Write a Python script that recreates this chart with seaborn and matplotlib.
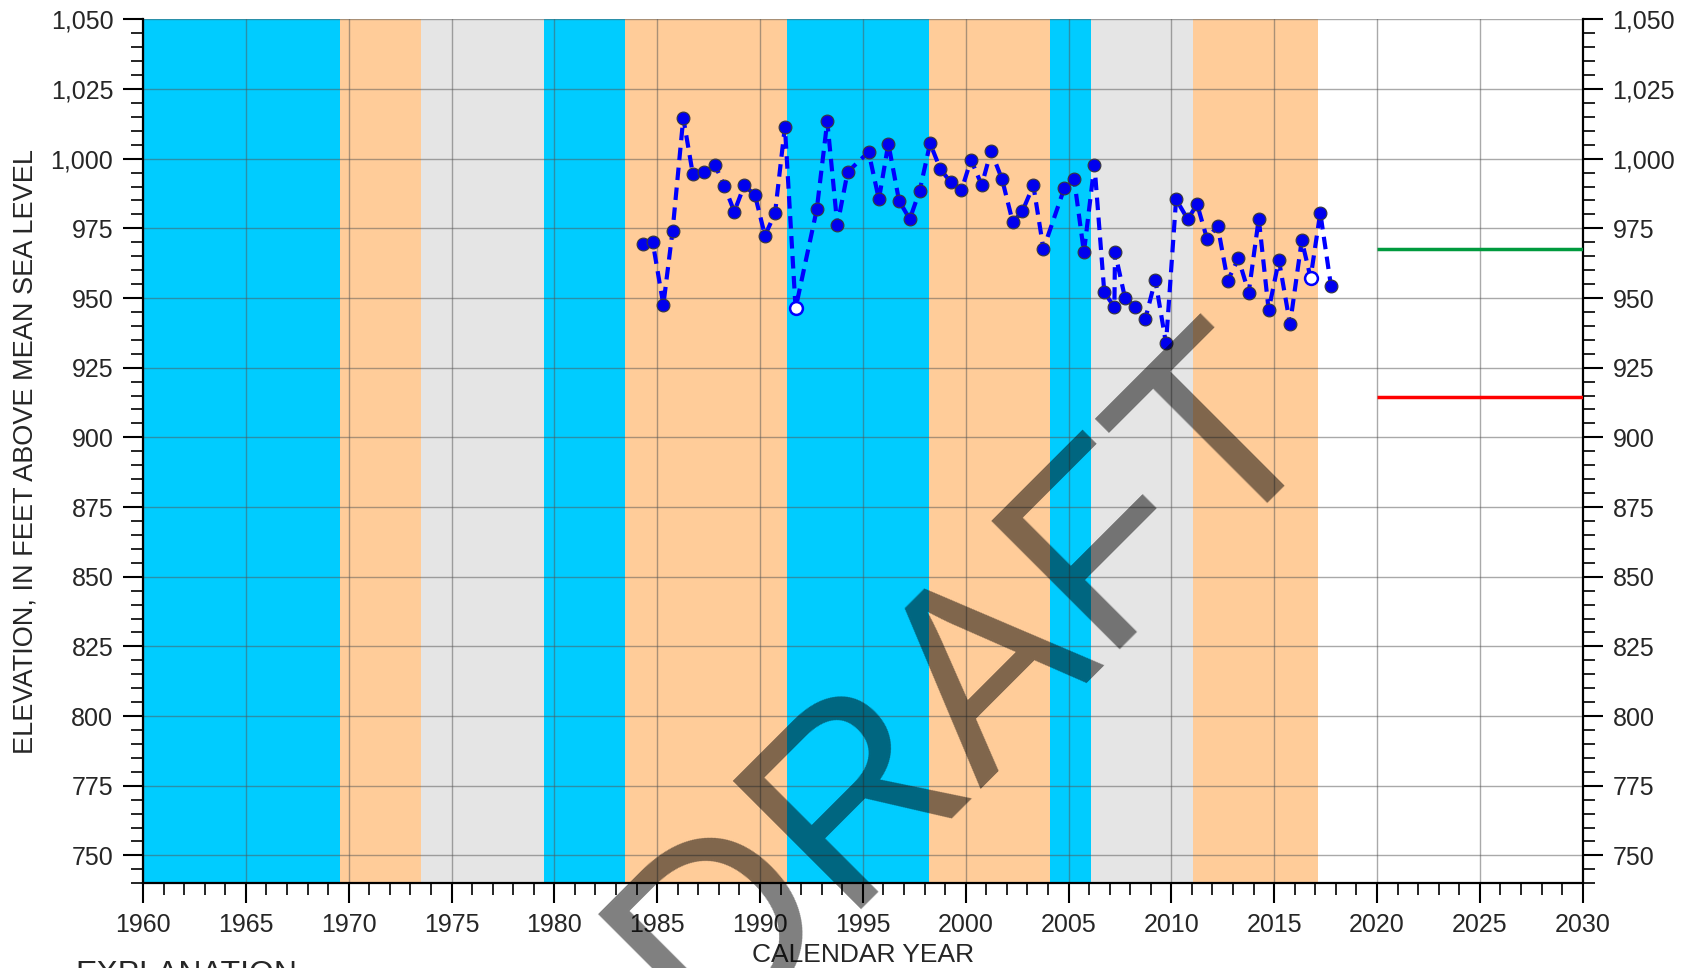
import pandas as pd
import matplotlib.pyplot as plt
import matplotlib.ticker as mticker
import seaborn as sns

# water-level measurements (decimal year, ft above MSL)
years = [1984.30, 1984.78, 1985.30, 1985.75, 1986.27, 1986.73, 1987.28, 1987.81, 1988.27, 1988.75,
         1989.24, 1989.76, 1990.24, 1990.73, 1991.21, 1991.73, 1992.76, 1993.27, 1993.76, 1994.26,
         1995.28, 1995.78, 1996.24, 1996.76, 1997.28, 1997.76, 1998.27, 1998.77, 1999.27, 1999.79,
         2000.26, 2000.78, 2001.23, 2001.77, 2002.29, 2002.76, 2003.29, 2003.78, 2004.80, 2005.27,
         2005.75, 2006.26, 2006.74, 2007.23, 2007.26, 2007.75, 2008.25, 2008.73, 2009.22, 2009.74,
         2010.23, 2010.80, 2011.25, 2011.74, 2012.25, 2012.74, 2013.26, 2013.76, 2014.25, 2014.73,
         2015.23, 2015.77, 2016.34, 2016.77, 2017.24, 2017.76]
elevation = [969.4, 970.2, 947.5, 974.2, 1014.6, 994.6, 995.2, 997.8, 990.1, 981.0,
             990.5, 986.8, 972.4, 980.4, 1011.5, 946.3, 981.8, 1013.4, 976.1, 995.2,
             1002.4, 985.4, 1005.4, 984.9, 978.3, 988.4, 1005.5, 996.2, 991.6, 988.6,
             999.6, 990.5, 1002.7, 992.6, 977.2, 981.2, 990.4, 967.6, 989.5, 992.7,
             966.4, 997.8, 952.0, 946.8, 966.4, 949.9, 946.9, 942.4, 956.5, 933.7,
             985.4, 978.2, 983.7, 971.1, 975.9, 956.2, 964.2, 951.9, 978.5, 945.7,
             963.6, 940.6, 970.7, 957.3, 980.6, 954.4]
# measurements shown with open symbols
open_years = [1991.73, 2016.77]

# climate periods shaded behind the data
period_start = [1960.0, 1969.6, 1973.5, 1979.5, 1983.45, 1991.3, 1998.2, 2004.1, 2006.1, 2011.05]
period_end = [1969.6, 1973.5, 1979.5, 1983.45, 1991.3, 1998.2, 2004.1, 2006.1, 2011.05, 2017.15]
period_type = ['wet', 'dry', 'normal', 'wet', 'dry', 'wet', 'dry', 'wet', 'normal', 'dry']
period_colors = {'wet': '#00ccff', 'dry': '#ffcc99', 'normal': '#e5e5e5'}

# reference levels drawn 2020-2030
ref_levels = [967.5, 914.6]
ref_colors = ['#009a3e', '#ff0000']

sns.set_theme(style='white')
plt.rcParams['font.family'] = ['Liberation Sans', 'DejaVu Sans']

df = pd.DataFrame({'year': years, 'elevation': elevation})
df['open'] = df['year'].isin(open_years)

fig, ax = plt.subplots(figsize=(16.87, 9.68), dpi=100)
fig.subplots_adjust(left=143 / 1687, right=1582.7 / 1687, top=1 - 19.3 / 968, bottom=1 - 883.3 / 968)

for s, e, t in zip(period_start, period_end, period_type):
    ax.axvspan(s, e, color=period_colors[t], lw=0, zorder=0)

sns.lineplot(data=df, x='year', y='elevation', ax=ax, color='#0000ff', lw=3.0,
             linestyle=(0, (3, 1.8)), estimator=None, sort=False, zorder=3)
sns.scatterplot(data=df[~df['open']], x='year', y='elevation', ax=ax, color='#0000ee',
                s=85, edgecolor='#3a3a3a', linewidth=0.8, zorder=4)
sns.scatterplot(data=df[df['open']], x='year', y='elevation', ax=ax, color='white',
                s=85, edgecolor='#0000ff', linewidth=1.8, zorder=4)

for lvl, c in zip(ref_levels, ref_colors):
    ax.hlines(lvl, 2020, 2030, color=c, lw=2.5, zorder=3)

ax.set_xlim(1960, 2030)
ax.set_ylim(740, 1050)
ax.xaxis.set_major_locator(mticker.MultipleLocator(5))
ax.xaxis.set_minor_locator(mticker.MultipleLocator(1))
ax.yaxis.set_major_locator(mticker.MultipleLocator(25))
ax.yaxis.set_minor_locator(mticker.MultipleLocator(5))
ax.yaxis.set_major_formatter(mticker.FuncFormatter(lambda v, p: f'{v:,.0f}'))

ax.set_axisbelow('line')
ax.grid(True, which='major', color='#555555', alpha=0.5, lw=1.0)

ax.tick_params(which='major', direction='out', length=14.4, width=1.5, labelsize=18,
               left=True, right=True, bottom=True, labelright=True, color='black', pad=7)
ax.tick_params(which='minor', direction='out', length=8.6, width=1.2,
               left=True, right=True, bottom=True, color='black')
for side in ['left', 'right', 'bottom']:
    ax.spines[side].set_color('black')
    ax.spines[side].set_linewidth(1.6)
ax.spines['top'].set_visible(False)

ax.set_xlabel('CALENDAR YEAR', fontsize=19)
ax.set_ylabel('ELEVATION, IN FEET ABOVE MEAN SEA LEVEL', fontsize=19.5)
ax.xaxis.set_label_coords(0.5, (883.3 - 943) / 864)
ax.yaxis.set_label_coords((39 - 143) / 1439.7, 0.5)

# legend heading, mostly below the bottom edge in the original
fig.text(75 / 1687, 1 - 983 / 968, 'EXPLANATION', fontsize=23, va='baseline', ha='left')

# draft watermark
fig.text(0.6021, 0.2445, 'DRAFT', fontsize=190, color='black', alpha=0.5, rotation=45,
         rotation_mode='anchor', ha='center', va='baseline', zorder=10)

plt.savefig('out.png', dpi=100)
